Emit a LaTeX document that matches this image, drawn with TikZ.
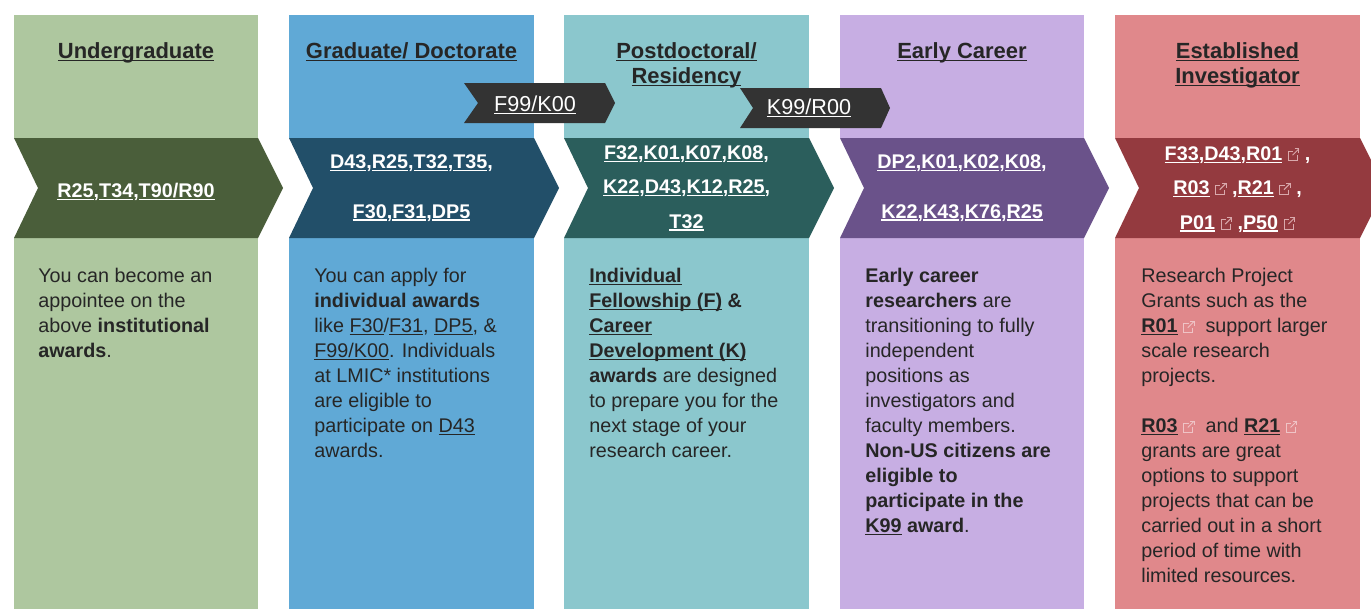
\documentclass[tikz,border=0pt]{standalone}
\usepackage{fontspec}
\setmainfont{Liberation Sans}
\definecolor{ugL}{HTML}{AEC79F}
\definecolor{ugD}{HTML}{4A5E3A}
\definecolor{grL}{HTML}{60A9D6}
\definecolor{grD}{HTML}{224F69}
\definecolor{pdL}{HTML}{8BC7CD}
\definecolor{pdD}{HTML}{2B5E5C}
\definecolor{ecL}{HTML}{C7AEE3}
\definecolor{ecD}{HTML}{6A528A}
\definecolor{eiL}{HTML}{E0888B}
\definecolor{eiD}{HTML}{943A3F}
\definecolor{tagD}{HTML}{333333}
\definecolor{ink}{HTML}{262626}
\definecolor{icoW}{HTML}{D9A9AC}
\definecolor{icoP}{HTML}{EFC4C6}
\newsavebox\lnkbox
\newcommand{\lnk}[1]{\leavevmode\sbox\lnkbox{#1}\rlap{\rule[-0.14em]{\wd\lnkbox}{0.07em}}\usebox\lnkbox}
\newcommand{\extico}[1]{\tikz[x=1pt,y=1pt,baseline=0pt,line width=0.55pt]{\draw[#1] (2.8,5.2) -- (0,5.2) -- (0,0) -- (5.2,0) -- (5.2,2.8); \draw[#1] (2.4,2.8) -- (6,6.4); \draw[#1] (3.6,6.4) -- (6,6.4) -- (6,4);}}
\tikzset{
  head/.style={font=\bfseries\fontsize{12.5}{14.2}\selectfont, text=ink, align=center, inner sep=0pt, anchor=north},
  body/.style={font=\fontsize{11.25}{14.2}\selectfont, text=ink, align=left, inner sep=0pt, anchor=north west},
  codes/.style={font=\bfseries\fontsize{11.25}{#1}\selectfont, text=white, align=center, inner sep=0pt, anchor=north},
  codes/.default=19.6pt,
  tagtxt/.style={font=\fontsize{12.3}{14}\selectfont, text=white, inner sep=0pt, anchor=north}
}
\begin{document}
\begin{tikzpicture}[x=0.02cm,y=-0.02cm]
\useasboundingbox (0,0) rectangle (1371,609);
\clip (0,0) rectangle (1371,609);
\fill[ugL] (14,15) rectangle (258,138);
\fill[ugL] (14,238) rectangle (258,609);
\fill[ugD] (14,138) -- (258,138) -- (283,188) -- (258,238) -- (14,238) -- (38,188) -- cycle;
\fill[grL] (289,15) rectangle (534,138);
\fill[grL] (289,238) rectangle (534,609);
\fill[grD] (289,138) -- (534,138) -- (559,188) -- (534,238) -- (289,238) -- (313,188) -- cycle;
\fill[pdL] (564,15) rectangle (809,138);
\fill[pdL] (564,238) rectangle (809,609);
\fill[pdD] (564,138) -- (809,138) -- (834,188) -- (809,238) -- (564,238) -- (588,188) -- cycle;
\fill[ecL] (840,15) rectangle (1084,138);
\fill[ecL] (840,238) rectangle (1084,609);
\fill[ecD] (840,138) -- (1084,138) -- (1109,188) -- (1084,238) -- (840,238) -- (864,188) -- cycle;
\fill[eiL] (1115,15) rectangle (1360,138);
\fill[eiL] (1115,238) rectangle (1360,609);
\fill[eiD] (1115,138) -- (1360,138) -- (1385,188) -- (1360,238) -- (1115,238) -- (1139,188) -- cycle;
\node[head] (ug) at (136,42) {\lnk{Undergraduate}};
\node[codes] (ugC) at (136,183) {\lnk{R25},\lnk{T34},\lnk{T90/R90}};
\node[body] (ugT) at (38,268) {You can become an\\appointee on the\\above \textbf{institutional}\\\textbf{awards}.};
\node[head] (gd) at (411.5,42) {\lnk{Graduate/ Doctorate}};
\node[codes=28.4pt] (gdC) at (411.5,154) {\lnk{D43},\lnk{R25},\lnk{T32},\lnk{T35},\\\lnk{F30},\lnk{F31},\lnk{DP5}};
\node[body] (gdT) at (314,268) {You can apply for\\\textbf{individual awards}\\like \lnk{F30}/\lnk{F31}, \lnk{DP5}, \&\\\lnk{F99/K00}. Individuals\\at LMIC* institutions\\are eligible to\\participate on \lnk{D43}\\awards.};
\node[head] (pd) at (686.5,42) {\lnk{Postdoctoral/}\\\lnk{Residency}};
\node[codes] (pdC) at (686.5,145) {\lnk{F32},\lnk{K01},\lnk{K07},\lnk{K08},\\\lnk{K22},\lnk{D43},\lnk{K12},\lnk{R25},\\\lnk{T32}};
\node[body] (pdT) at (589,268) {\textbf{\lnk{Individual}}\\\textbf{\lnk{Fellowship (F)} \&}\\\textbf{\lnk{Career}}\\\textbf{\lnk{Development (K)}}\\\textbf{awards} are designed\\to prepare you for the\\next stage of your\\research career.};
\node[head] (ec) at (962,42) {\lnk{Early Career}};
\node[codes=28.4pt] (ecC) at (962,154) {\lnk{DP2},\lnk{K01},\lnk{K02},\lnk{K08},\\\lnk{K22},\lnk{K43},\lnk{K76},\lnk{R25}};
\node[body] (ecT) at (865,268) {\textbf{Early career}\\\textbf{researchers} are\\transitioning to fully\\independent\\positions as\\investigators and\\faculty members.\\\textbf{Non-US citizens are}\\\textbf{eligible to}\\\textbf{participate in the}\\\textbf{\lnk{K99} award}.};
\node[head] (ei) at (1237.5,42) {\lnk{Established}\\\lnk{Investigator}};
\node[codes] (eiC) at (1237.5,146) {\lnk{F33},\lnk{D43},\lnk{R01} \extico{icoW} ,\\\lnk{R03} \extico{icoW} ,\lnk{R21} \extico{icoW} ,\\\lnk{P01} \extico{icoW} ,\lnk{P50} \extico{icoW}};
\node[body] (eiT) at (1141,268) {Research Project\\Grants such as the\\\textbf{\lnk{R01}} \extico{icoP}\ \ support larger\\scale research\\projects.\\[14.2pt]\textbf{\lnk{R03}} \extico{icoP}\ \ and \textbf{\lnk{R21}} \extico{icoP}\\grants are great\\options to support\\projects that can be\\carried out in a short\\period of time with\\limited resources.};
\fill[tagD] (464,83) -- (605,83) -- (615,103) -- (605,123) -- (464,123) -- (478,103) -- cycle;
\node[tagtxt] (fk) at (535,95) {\lnk{F99/K00}};
\fill[tagD] (740,88) -- (881,88) -- (890,108) -- (881,128) -- (740,128) -- (753,108) -- cycle;
\node[tagtxt] (kr) at (809,98) {\lnk{K99/R00}};
\end{tikzpicture}
\end{document}
